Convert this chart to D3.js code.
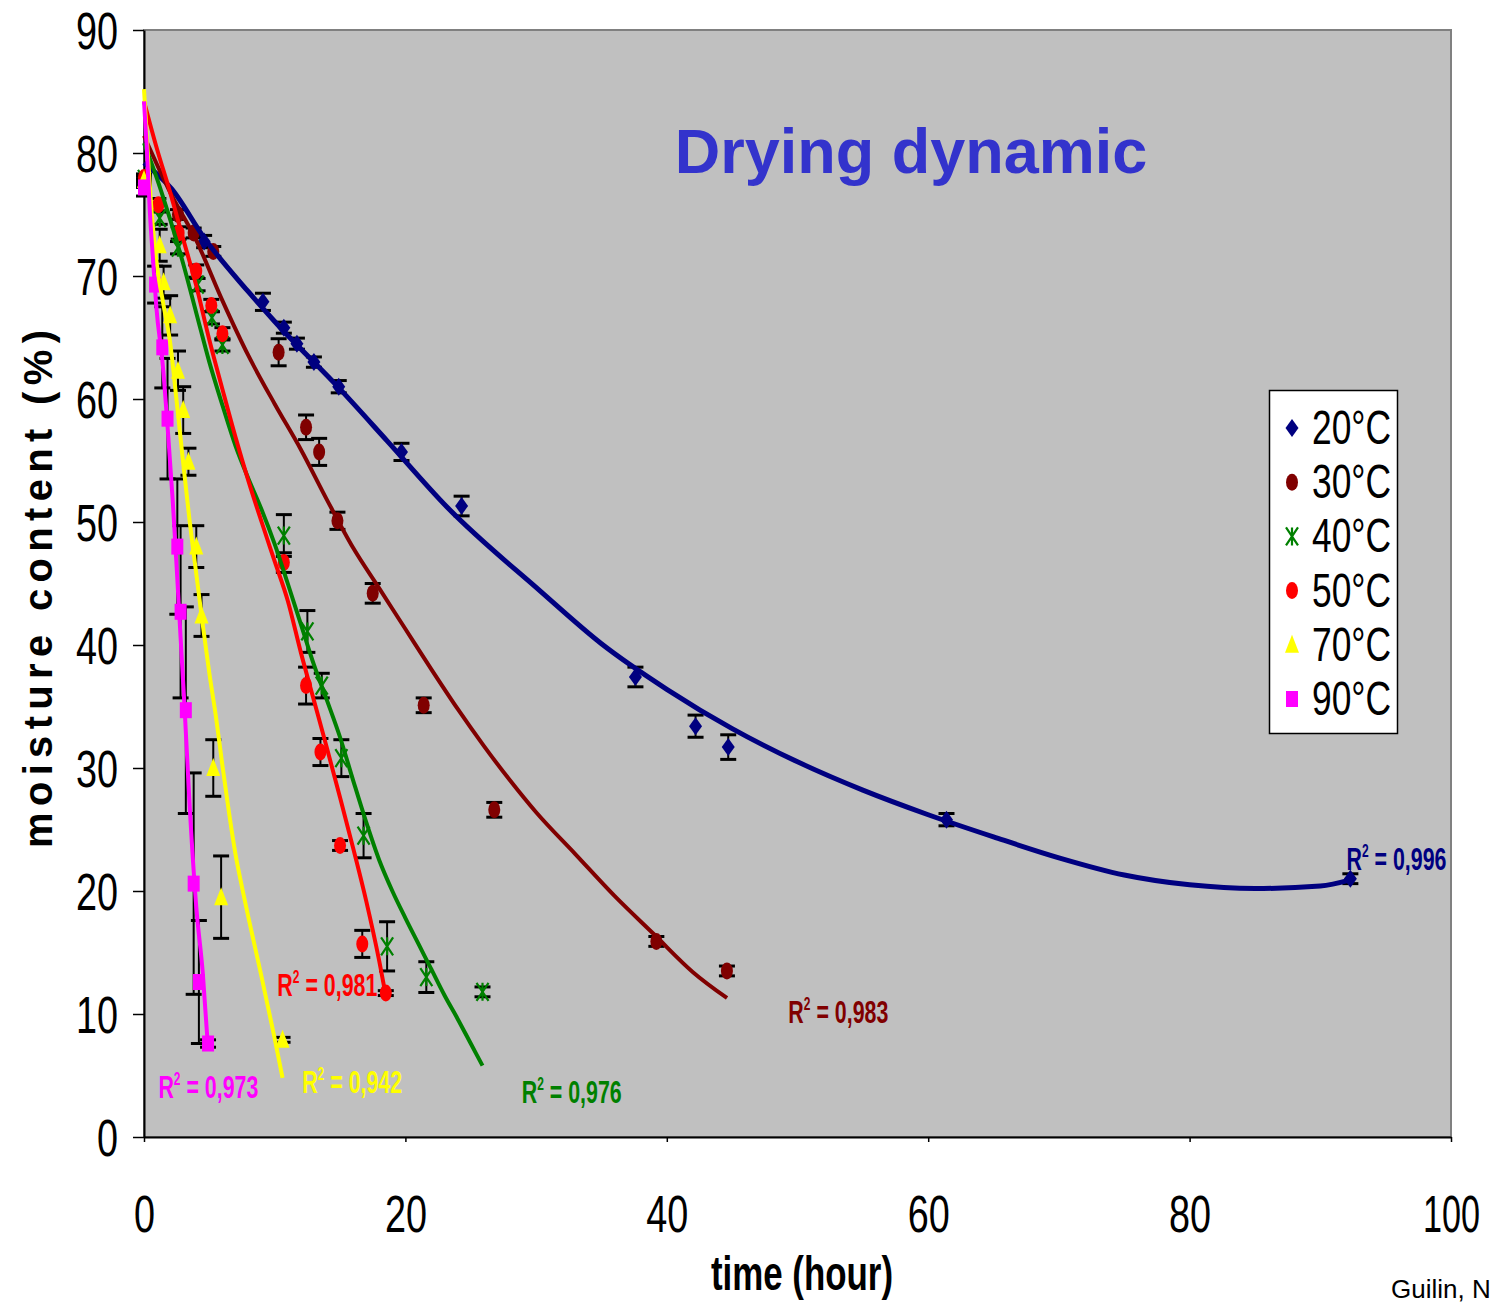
<!DOCTYPE html>
<html>
<head>
<meta charset="utf-8">
<script src="https://d3js.org/d3.v7.min.js"></script>
<style>
  body { margin: 0; background: #ffffff; }
  svg { display: block; }
</style>
</head>
<body>
<svg id="chart" width="1490" height="1303"></svg>
<script>
// ---- data ----
const seriesNames = ["20°C", "30°C", "40°C", "50°C", "70°C", "90°C"];
const r2Labels = ["0,996", "0,983", "0,976", "0,981", "0,942", "0,973"];
const xTicks = [0, 20, 40, 60, 80, 100];
const yTicks = [0, 10, 20, 30, 40, 50, 60, 70, 80, 90];

const t20 = [0, 4.6, 9.1, 10.7, 11.7, 13.0, 14.9, 19.7, 24.3, 37.6, 42.2, 44.7, 61.4, 92.3];
const m20 = [77.5, 72.8, 67.9, 65.8, 64.5, 63.0, 61.0, 55.7, 51.3, 37.4, 33.4, 31.7, 25.8, 21.0];
const e20 = [0.3, 0.5, 0.7, 0.45, 0.45, 0.42, 0.5, 0.7, 0.8, 0.8, 0.9, 1.0, 0.5, 0.4];

const t30 = [0, 2.6, 3.8, 5.3, 10.3, 12.4, 13.4, 14.8, 17.5, 21.4, 26.8, 39.2, 44.6];
const m30 = [77.8, 75.0, 73.5, 72.0, 63.8, 57.7, 55.7, 50.1, 44.2, 35.1, 26.6, 15.9, 13.5];
const e30 = [0.3, 0.4, 0.4, 0.4, 1.1, 1.0, 1.1, 0.7, 0.8, 0.6, 0.6, 0.4, 0.4];

const t40 = [0, 1.2, 2.6, 4.1, 5.2, 6.0, 10.7, 12.5, 13.6, 15.1, 16.8, 18.6, 21.6, 25.9];
const m40 = [77.9, 74.7, 72.3, 69.3, 66.6, 64.4, 48.9, 41.1, 36.7, 30.8, 24.5, 15.5, 13.0, 11.8];
const e40 = [0.3, 0.5, 0.5, 0.5, 0.5, 0.5, 1.7, 1.7, 1.0, 1.5, 1.8, 2.0, 1.25, 0.4];

const t50 = [0, 1.1, 2.65, 4.0, 5.15, 6.0, 10.7, 12.4, 13.5, 15.0, 16.7, 18.5];
const m50 = [78.0, 75.8, 73.5, 70.4, 67.6, 65.3, 46.7, 36.7, 31.3, 23.7, 15.7, 11.7];
const e50 = [0.3, 0.5, 0.5, 0.5, 0.5, 0.5, 0.8, 1.5, 1.1, 0.4, 1.1, 0.2];

const t70 = [0, 1.2, 1.5, 2.0, 2.6, 3.0, 3.4, 4.0, 4.4, 5.3, 5.9, 10.6];
const m70 = [77.8, 72.5, 69.5, 66.8, 62.3, 59.1, 54.9, 48.0, 42.4, 30.0, 19.5, 7.9];
const e70 = [0.4, 1.3, 1.3, 1.6, 1.6, 1.9, 1.1, 1.7, 1.7, 2.3, 3.35, 0.2];

const t90 = [0, 0.85, 1.4, 1.8, 2.55, 2.8, 3.2, 3.8, 4.2, 4.9];
const m90 = [77.2, 69.3, 64.2, 58.4, 48.0, 42.7, 34.7, 20.6, 12.6, 7.6];
const e90 = [0.7, 1.5, 3.3, 4.9, 5.5, 7.0, 8.4, 9.0, 5.0, 0.3];

// trend lines as [time, moisture]
const fit20 = [[0,79.2],[2.1,77.1],[4.6,73.1],[8,68.7],[10,66.3],[15,60.8],[18.6,56.6],[23.2,51.2],[30.3,44.4],[35,40.1],[40,36.4],[45,33.2],[50,30.5],[55,28.2],[60,26.2],[65,24.4],[70,22.7],[75,21.3],[80,20.5],[85,20.2],[90,20.4],[92.3,20.9]];
const fit30 = [[0,81.4],[2,76.8],[4,72.9],[6,68.0],[8,63.5],[10,59.6],[12,55.9],[14,51.8],[16,47.9],[18,44.6],[20,41.3],[22,38.0],[24,34.8],[26,31.8],[28,29.0],[30,26.4],[33,23.0],[36,19.6],[39,16.5],[42,13.4],[44.6,11.3]];
const fit40 = [[0,80.8],[1,77.9],[2,74.6],[3,71.0],[4,67.0],[5,63.0],[6,59.5],[7,56.2],[8,53.5],[9,51.0],[10,48.2],[11,45.0],[12,41.7],[13,38.4],[14,35.5],[15,32.5],[16,29.0],[17,25.6],[18,22.5],[19,20.0],[20,17.8],[21,15.7],[22,13.6],[23,11.5],[24,9.6],[25,7.6],[25.9,5.8]];
const fit50 = [[0,84.2],[1,80.3],[2,76.8],[3,73.0],[4,69.2],[5,64.8],[6,60.8],[7,56.9],[8,53.3],[9,50.0],[10,46.8],[11,43.6],[12,39.4],[13,35.5],[14,31.6],[15,27.6],[16,23.5],[17,19.2],[18,14.3],[18.5,11.5]];
const fit70 = [[0,85.2],[0.3,79.8],[0.6,75.0],[1.0,70.8],[1.5,67.6],[2.0,64.6],[2.5,59.8],[3.0,54.8],[3.5,50.0],[4.0,45.8],[4.5,41.6],[5.0,37.7],[5.5,34.2],[6.0,30.2],[6.5,26.4],[7.0,23.0],[7.5,20.3],[8.0,17.8],[8.5,15.4],[9.0,13.0],[9.5,10.5],[10.0,8.0],[10.6,4.8]];
const fit90 = [[0,84.2],[0.2,80.7],[0.45,75.2],[0.7,71.2],[0.95,67.4],[1.45,62.6],[1.84,57.2],[2.2,51.7],[2.5,46.3],[2.8,40.6],[3.1,35.0],[3.5,26.8],[4.0,18.7],[4.5,13.3],[4.9,7.2]];

// ---- layout ----
const colors = ["#000080", "#800000", "#008000", "#ff0000", "#ffff00", "#ff00ff"];
const shapes = ["diamond", "ellipse", "star", "ellipse", "triangle", "square"];
const lineW = [5, 4, 4, 4, 4, 4];
const narrow = "'Liberation Sans Narrow', 'Arial Narrow', 'Liberation Sans', Arial, sans-serif";
const sans = "'Liberation Sans', Arial, sans-serif";

const svg = d3.select("#chart");
const x = d3.scaleLinear().domain([0, 100]).range([144, 1451]);
const y = d3.scaleLinear().domain([0, 90]).range([1137, 30]);

const series = seriesNames.map((name, i) => ({
    name: name,
    t: [t20, t30, t40, t50, t70, t90][i],
    m: [m20, m30, m40, m50, m70, m90][i],
    e: [e20, e30, e40, e50, e70, e90][i],
    fit: [fit20, fit30, fit40, fit50, fit70, fit90][i],
    color: colors[i],
    shape: shapes[i]
}));

// plot background
svg.append("rect")
    .attr("x", x(0)).attr("y", y(90))
    .attr("width", x(100) - x(0)).attr("height", y(0) - y(90))
    .attr("fill", "#c0c0c0")
    .attr("stroke", "#808080")
    .attr("stroke-width", 2);

// axes
const yAxis = d3.axisLeft(y).tickValues(yTicks).tickSize(11).tickSizeOuter(0);
const gy = svg.append("g").attr("transform", "translate(" + x(0) + ",0)").call(yAxis);
gy.select(".domain").attr("stroke", "#000").attr("stroke-width", 2);
gy.selectAll(".tick line").attr("stroke", "#000").attr("stroke-width", 1.5);
gy.selectAll(".tick text")
    .attr("x", -26).attr("dy", "18px")
    .style("font-family", narrow).style("font-size", "52px").attr("fill", "#000")
    .attr("textLength", d => d < 10 ? 21 : 42)
    .attr("lengthAdjust", "spacingAndGlyphs");

const xAxis = d3.axisBottom(x).tickValues(xTicks).tickSize(5).tickSizeOuter(0);
const gx = svg.append("g").attr("transform", "translate(0," + y(0) + ")").call(xAxis);
gx.select(".domain").attr("stroke", "#000").attr("stroke-width", 2);
gx.selectAll(".tick line").attr("stroke", "#000").attr("stroke-width", 1.5);
gx.selectAll(".tick text")
    .attr("y", 95).attr("dy", 0)
    .style("font-family", narrow).style("font-size", "52px").attr("fill", "#000")
    .attr("textLength", d => d < 10 ? 21 : (d < 100 ? 42 : 57))
    .attr("lengthAdjust", "spacingAndGlyphs");

// marker drawing
function marker(g, shape, color) {
    if (shape === "diamond") {
        g.append("path").attr("d", "M0,-9L6.5,0L0,9L-6.5,0Z").attr("fill", color);
    } else if (shape === "ellipse") {
        g.append("ellipse").attr("rx", 6).attr("ry", 8.5).attr("fill", color);
    } else if (shape === "triangle") {
        g.append("path").attr("d", "M0,-10L7,8L-7,8Z").attr("fill", color);
    } else if (shape === "square") {
        g.append("rect").attr("x", -6).attr("y", -8).attr("width", 12).attr("height", 16).attr("fill", color);
    } else {
        g.append("path").attr("d", "M-6,-9L6,9M6,-9L-6,9M0,-9L0,9")
            .attr("stroke", color).attr("stroke-width", 2.2).attr("fill", "none");
    }
}

// error bars
series.forEach(s => {
    const g = svg.append("g").attr("stroke", "#000").attr("stroke-width", 2);
    s.t.forEach((t, i) => {
        const cx = x(t), lo = y(s.m[i] - s.e[i]), hi = y(s.m[i] + s.e[i]);
        g.append("line").attr("x1", cx).attr("x2", cx).attr("y1", lo).attr("y2", hi);
        g.append("line").attr("x1", cx - 8).attr("x2", cx + 8).attr("y1", lo).attr("y2", lo).attr("stroke-width", 3);
        g.append("line").attr("x1", cx - 8).attr("x2", cx + 8).attr("y1", hi).attr("y2", hi).attr("stroke-width", 3);
    });
});

// markers
series.forEach(s => {
    s.t.forEach((t, i) => {
        const g = svg.append("g").attr("transform", "translate(" + x(t) + "," + y(s.m[i]) + ")");
        marker(g, s.shape, s.color);
    });
});

// trend lines
const line = d3.line().x(d => x(d[0])).y(d => y(d[1])).curve(d3.curveMonotoneX);
series.forEach((s, i) => {
    svg.append("path").datum(s.fit)
        .attr("d", line)
        .attr("fill", "none")
        .attr("stroke", s.color)
        .attr("stroke-width", lineW[i])
        .attr("stroke-linejoin", "round");
});

// R² labels (left x in time units, baseline in moisture units)
const r2Pos = [[92.0, 21.7], [49.3, 9.3], [28.9, 2.8], [10.2, 11.5], [12.1, 3.6], [1.1, 3.2]];
r2Labels.forEach((lab, i) => {
    const tx = svg.append("text")
        .attr("x", x(r2Pos[i][0])).attr("y", y(r2Pos[i][1]))
        .attr("fill", colors[i])
        .style("font-family", narrow).style("font-size", "32px").style("font-weight", "bold")
        .attr("textLength", 100).attr("lengthAdjust", "spacingAndGlyphs");
    tx.append("tspan").text("R");
    tx.append("tspan").attr("dy", -13).style("font-size", "18px").text("2");
    tx.append("tspan").attr("dy", 13).text(" = " + lab);
});

// title
svg.append("text")
    .attr("x", 911).attr("y", 173)
    .attr("text-anchor", "middle")
    .attr("fill", "#3333cc")
    .style("font-family", sans).style("font-size", "63px").style("font-weight", "bold")
    .text("Drying dynamic");

// axis titles
svg.append("text")
    .attr("x", 802).attr("y", 1290)
    .attr("text-anchor", "middle")
    .style("font-family", narrow).style("font-size", "48px").style("font-weight", "bold")
    .attr("textLength", 182).attr("lengthAdjust", "spacingAndGlyphs")
    .text("time (hour)");

svg.append("text")
    .attr("transform", "translate(52,589) rotate(-90)")
    .attr("text-anchor", "middle")
    .style("font-family", sans).style("font-size", "40px").style("font-weight", "bold")
    .attr("textLength", 518).attr("lengthAdjust", "spacing")
    .text("moisture content (%)");

// legend
const legend = svg.append("g");
legend.append("rect")
    .attr("x", 1269.5).attr("y", 390.5).attr("width", 128).attr("height", 343)
    .attr("fill", "#fff").attr("stroke", "#000").attr("stroke-width", 1.5);
series.forEach((s, i) => {
    const cy = 428 + i * 54.2;
    const g = legend.append("g").attr("transform", "translate(1292," + cy + ")");
    marker(g, s.shape, s.color);
    legend.append("text")
        .attr("x", 1312).attr("y", cy + 16)
        .style("font-family", narrow).style("font-size", "49px")
        .attr("textLength", 79).attr("lengthAdjust", "spacingAndGlyphs")
        .text(s.name);
});

// source note, cut by the right edge
svg.append("text")
    .attr("x", 1391).attr("y", 1298)
    .style("font-family", sans).style("font-size", "26px")
    .text("Guilin, N");
</script>
</body>
</html>
